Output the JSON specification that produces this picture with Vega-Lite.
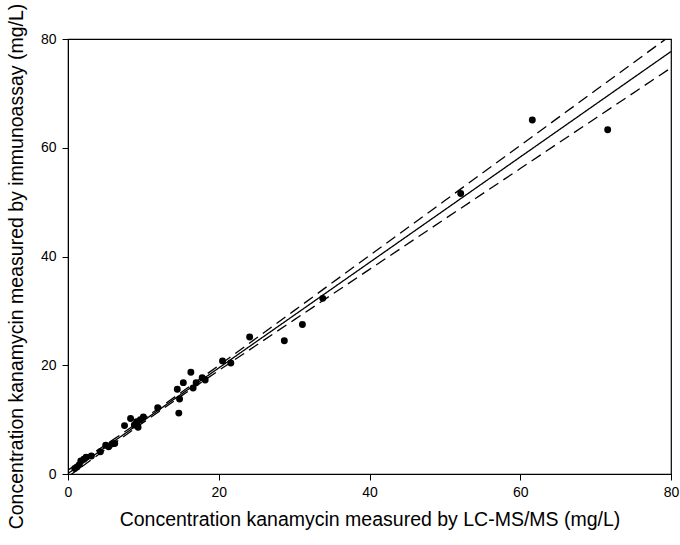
{
  "$schema": "https://vega.github.io/schema/vega-lite/v6.json",
  "autosize": {"type": "none"},
  "padding": {"left": 68, "top": 39, "right": 9, "bottom": 71},
  "width": 603,
  "height": 435,
  "background": "white",
  "config": {
    "view": {"stroke": "black", "strokeWidth": 1.2},
    "font": "Liberation Sans",
    "axis": {
      "grid": false,
      "domainColor": "black",
      "tickColor": "black",
      "tickSize": 6,
      "labelColor": "black",
      "titleColor": "black",
      "labelFont": "Liberation Sans",
      "titleFont": "Liberation Sans",
      "labelFontSize": 14,
      "titleFontSize": 19.5,
      "titleFontWeight": "normal",
      "labelFlush": false,
      "labelOverlap": false,
      "tickCount": 5
    }
  },
  "datasets": {
    "points": [
      {"lcms": 0.9, "ia": 1.0}, {"lcms": 1.2, "ia": 1.3}, {"lcms": 1.5, "ia": 1.7},
      {"lcms": 1.7, "ia": 2.4}, {"lcms": 2.1, "ia": 2.7}, {"lcms": 2.4, "ia": 3.1},
      {"lcms": 3.1, "ia": 3.3}, {"lcms": 4.3, "ia": 4.1}, {"lcms": 5.0, "ia": 5.3},
      {"lcms": 5.4, "ia": 5.0}, {"lcms": 5.8, "ia": 5.5}, {"lcms": 6.2, "ia": 5.6},
      {"lcms": 7.5, "ia": 8.9}, {"lcms": 8.3, "ia": 10.2}, {"lcms": 8.8, "ia": 9.0},
      {"lcms": 9.1, "ia": 9.6}, {"lcms": 9.3, "ia": 8.6}, {"lcms": 9.6, "ia": 10.0},
      {"lcms": 10.0, "ia": 10.5}, {"lcms": 11.9, "ia": 12.2}, {"lcms": 14.5, "ia": 15.6},
      {"lcms": 14.8, "ia": 13.8}, {"lcms": 14.7, "ia": 11.2}, {"lcms": 15.3, "ia": 16.8},
      {"lcms": 16.3, "ia": 18.7}, {"lcms": 16.6, "ia": 15.8}, {"lcms": 17.0, "ia": 16.8},
      {"lcms": 17.8, "ia": 17.7}, {"lcms": 18.2, "ia": 17.3}, {"lcms": 20.5, "ia": 20.8},
      {"lcms": 21.6, "ia": 20.4}, {"lcms": 24.1, "ia": 25.2}, {"lcms": 28.7, "ia": 24.5},
      {"lcms": 31.1, "ia": 27.5}, {"lcms": 33.8, "ia": 32.3}, {"lcms": 52.1, "ia": 51.6},
      {"lcms": 61.6, "ia": 65.1}, {"lcms": 71.6, "ia": 63.3}
    ],
    "lines": [
      {"x": 0, "y": 0.1, "band": "fit"}, {"x": 10, "y": 9.8, "band": "fit"},
      {"x": 20, "y": 19.5, "band": "fit"}, {"x": 40, "y": 38.9, "band": "fit"},
      {"x": 60, "y": 58.3, "band": "fit"}, {"x": 80, "y": 77.7, "band": "fit"},
      {"x": 0, "y": 0.71, "band": "upper"}, {"x": 5, "y": 5.38, "band": "upper"},
      {"x": 10, "y": 10.11, "band": "upper"}, {"x": 15, "y": 14.98, "band": "upper"},
      {"x": 20, "y": 19.96, "band": "upper"}, {"x": 30, "y": 30.05, "band": "upper"},
      {"x": 40, "y": 40.17, "band": "upper"}, {"x": 50, "y": 50.29, "band": "upper"},
      {"x": 60, "y": 60.43, "band": "upper"}, {"x": 70, "y": 70.56, "band": "upper"},
      {"x": 80, "y": 80.7, "band": "upper"},
      {"x": 0, "y": -0.51, "band": "lower"}, {"x": 5, "y": 4.52, "band": "lower"},
      {"x": 10, "y": 9.49, "band": "lower"}, {"x": 15, "y": 14.32, "band": "lower"},
      {"x": 20, "y": 19.04, "band": "lower"}, {"x": 30, "y": 28.35, "band": "lower"},
      {"x": 40, "y": 37.63, "band": "lower"}, {"x": 50, "y": 46.91, "band": "lower"},
      {"x": 60, "y": 56.17, "band": "lower"}, {"x": 70, "y": 65.44, "band": "lower"},
      {"x": 80, "y": 74.7, "band": "lower"}
    ]
  },
  "layer": [
    {
      "data": {"name": "lines"},
      "mark": {"type": "line", "clip": true, "color": "black", "strokeWidth": 1.3},
      "encoding": {
        "x": {"field": "x", "type": "quantitative",
              "scale": {"domain": [0, 80], "nice": false},
              "axis": {"title": "Concentration kanamycin measured by LC-MS/MS (mg/L)", "values": [0, 20, 40, 60, 80], "labelPadding": 5, "titlePadding": 11}},
        "y": {"field": "y", "type": "quantitative",
              "scale": {"domain": [0, 80], "nice": false},
              "axis": {"title": "Concentration kanamycin measured by immunoassay (mg/L)", "values": [0, 20, 40, 60, 80], "labelPadding": 6, "titlePadding": 14, "titleY": 227}},
        "detail": {"field": "band"},
        "strokeDash": {"field": "band", "type": "nominal",
                       "scale": {"domain": ["fit", "upper", "lower"], "range": [[1, 0], [11, 6], [11, 6]]},
                       "legend": null}
      }
    },
    {
      "data": {"name": "points"},
      "mark": {"type": "circle", "color": "black", "opacity": 1, "size": 48},
      "encoding": {
        "x": {"field": "lcms", "type": "quantitative"},
        "y": {"field": "ia", "type": "quantitative"}
      }
    }
  ]
}
